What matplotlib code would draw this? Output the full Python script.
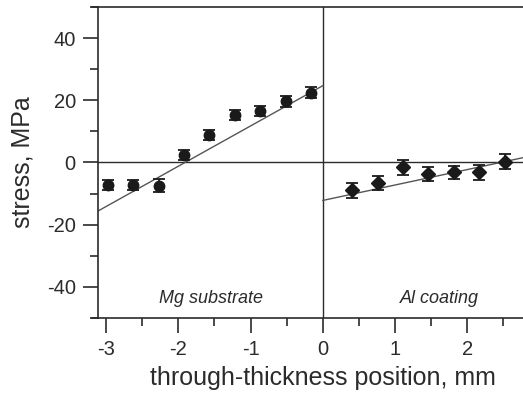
import matplotlib
matplotlib.use('Agg')
import matplotlib.pyplot as plt
from matplotlib.lines import Line2D
from matplotlib.ticker import MultipleLocator

plt.rcParams['font.family'] = ['Liberation Sans', 'DejaVu Sans']

# Mg substrate measurements (circles)
mg_x = [-2.97, -2.62, -2.27, -1.92, -1.57, -1.22, -0.87, -0.51, -0.16]
mg_y = [-7.1, -7.2, -7.4, 2.4, 8.9, 15.4, 16.6, 19.7, 22.4]
mg_err = [1.6, 1.6, 2.0, 1.6, 1.6, 1.6, 1.6, 1.8, 1.8]
mg_fit_x = [-3.11, 0.0]
mg_fit_y = [-15.6, 24.7]

# Al coating measurements (diamonds)
al_x = [0.41, 0.76, 1.11, 1.46, 1.81, 2.16, 2.52]
al_y = [-9.0, -6.6, -1.5, -3.8, -3.2, -3.2, 0.2]
al_err = [2.4, 2.4, 2.4, 2.2, 2.2, 2.4, 2.4]
al_fit_x = [0.0, 2.8]
al_fit_y = [-12.2, 1.7]

ink = '#2b2b2b'

fig = plt.figure(figsize=(5.23, 3.99), dpi=100)
ax = fig.add_axes([0.1874, 0.203, 0.8126, 0.7795])

ax.axhline(0, color=ink, lw=1.0, zorder=1)
ax.axvline(0, color=ink, lw=1.0, zorder=1)

ax.plot(mg_fit_x, mg_fit_y, color='#555555', lw=1.0, zorder=2)
ax.plot(al_fit_x, al_fit_y, color='#555555', lw=1.0, zorder=2)

ax.errorbar(mg_x, mg_y, yerr=mg_err, fmt='o', color='#1a1a1a', ms=7.5,
            capsize=4, elinewidth=1.3, capthick=1.3, zorder=3)
ax.errorbar(al_x, al_y, yerr=al_err, fmt='D', color='#1a1a1a', ms=7.5,
            capsize=4, elinewidth=1.3, capthick=1.3, zorder=3)

ax.text(-1.55, -43.8, 'Mg substrate', style='italic', fontsize=13,
        ha='center', va='center', color=ink)
ax.text(1.62, -43.8, 'Al coating', style='italic', fontsize=13,
        ha='center', va='center', color=ink)

ax.set_xlim(-3.11, 2.77)
ax.set_ylim(-50, 50)
ax.xaxis.set_minor_locator(MultipleLocator(0.5))
ax.yaxis.set_minor_locator(MultipleLocator(10))
ax.set_xticks([-3, -2, -1, 0, 1, 2])
ax.set_xticklabels(['-3', '-2', '-1', '0', '1', '2'])
ax.set_yticks([-40, -20, 0, 20, 40])
ax.set_yticklabels(['-40', '-20', '0', '20', '40'])

ax.tick_params(which='major', direction='out', length=11, width=1.2,
               color=ink, labelsize=14.5, labelcolor=ink, pad=5)
ax.tick_params(which='minor', direction='out', length=6, width=1.2, color=ink)

ax.spines['right'].set_visible(False)
for s in ['left', 'top', 'bottom']:
    ax.spines[s].set_color(ink)
    ax.spines[s].set_linewidth(1.2)

# frame lines overhang a little to the left of the y axis
for yy in [0, 1]:
    ax.add_line(Line2D([-0.015, 0], [yy, yy], transform=ax.transAxes,
                       color=ink, lw=1.2, clip_on=False))

ax.set_ylabel('stress, MPa', fontsize=18, color=ink)
ax.yaxis.set_label_coords(-0.15, 0.5)
ax.set_xlabel('through-thickness position, mm', fontsize=18, color=ink)
ax.xaxis.set_label_coords(0.529, -0.155)

plt.savefig('out.png', dpi=100)
plt.close()
